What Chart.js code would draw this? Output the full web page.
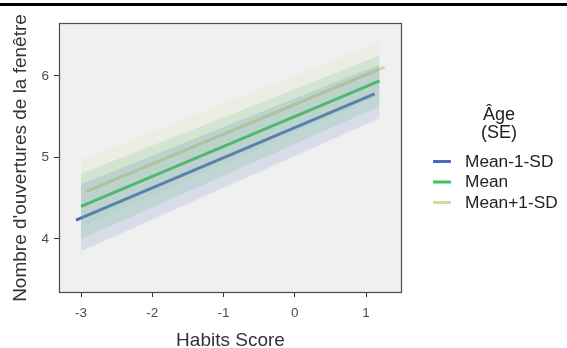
<!DOCTYPE html>
<html>
<head>
<meta charset="utf-8">
<script src="https://cdn.jsdelivr.net/npm/chart.js@4/dist/chart.umd.min.js"></script>
<style>
  html, body { margin: 0; padding: 0; background: #ffffff; }
  #wrap { width: 567px; height: 348px; position: relative; }
</style>
</head>
<body>
<div id="wrap"><canvas id="c" width="567" height="348"></canvas></div>
<script>
// ---- data ----
const xTicks = [-3, -2, -1, 0, 1];
const yTicks = [4, 5, 6];
const seriesNames = ['Mean-1-SD', 'Mean', 'Mean+1-SD'];
const seriesColors = ['#4a6bbf', '#3fc45a', '#d9d5a5'];
// fitted lines (slightly dodged along x)
const lineXMinus = [-3.07, 1.12];
const lineYMinus = [4.23, 5.78];
const lineXMean = [-3.0, 1.19];
const lineYMean = [4.40, 5.94];
const lineXPlus = [-2.93, 1.26];
const lineYPlus = [4.58, 6.11];
// confidence ribbons
const ribbonX = [-3.0, 1.19];
const lowMinus = [3.85, 5.48];
const highMinus = [4.67, 6.14];
const lowMean = [4.00, 5.63];
const highMean = [4.80, 6.25];
const lowPlus = [4.15, 5.76];
const highPlus = [4.97, 6.42];
const legendTitle = ['Âge', '(SE)'];

const lineXs = [lineXMinus, lineXMean, lineXPlus];
const lineYs = [lineYMinus, lineYMean, lineYPlus];
const lows = [lowMinus, lowMean, lowPlus];
const highs = [highMinus, highMean, highPlus];

function pts(xs, ys) { return xs.map((x, i) => ({x: x, y: ys[i]})); }
function rgba(hex, a) {
  const n = parseInt(hex.slice(1), 16);
  return `rgba(${(n >> 16) & 255},${(n >> 8) & 255},${n & 255},${a})`;
}

Chart.defaults.font.family = '"Liberation Sans", Arial, sans-serif';

const datasets = [];
for (let s = 0; s < seriesNames.length; s++) {
  datasets.push({
    label: seriesNames[s],
    data: pts(lineXs[s], lineYs[s]),
    borderColor: seriesColors[s],
    borderWidth: 3,
    pointRadius: 0,
    fill: false,
    order: 5
  });
}
for (let s = 0; s < seriesNames.length; s++) {
  datasets.push({
    label: seriesNames[s] + ' low',
    data: pts(ribbonX, lows[s]),
    borderWidth: 0,
    borderColor: 'rgba(0,0,0,0)',
    pointRadius: 0,
    fill: false,
    order: 1
  });
  datasets.push({
    label: seriesNames[s] + ' high',
    data: pts(ribbonX, highs[s]),
    borderWidth: 0,
    borderColor: 'rgba(0,0,0,0)',
    backgroundColor: rgba(seriesColors[s], 0.15),
    pointRadius: 0,
    fill: '-1',
    order: 1
  });
}

const panelPlugin = {
  id: 'panel',
  beforeDraw(chart) {
    const {ctx, chartArea: a} = chart;
    ctx.save();
    ctx.fillStyle = '#f0f0f0';
    ctx.fillRect(a.left, a.top, a.right - a.left, a.bottom - a.top);
    ctx.restore();
  },
  afterDraw(chart) {
    const {ctx, chartArea: a} = chart;
    ctx.save();
    ctx.strokeStyle = '#4d4d4d';
    ctx.lineWidth = 1.2;
    ctx.strokeRect(a.left + 0.5, a.top + 0.5, a.right - a.left - 1, a.bottom - a.top - 1);
    // top rule
    ctx.fillStyle = '#000000';
    ctx.fillRect(0, 3, chart.width, 3);
    // legend
    ctx.fillStyle = '#222222';
    ctx.textAlign = 'center';
    ctx.textBaseline = 'middle';
    ctx.font = '18px "Liberation Sans", Arial, sans-serif';
    ctx.fillText(legendTitle[0], 499, 115);
    ctx.fillText(legendTitle[1], 499, 133.5);
    ctx.textAlign = 'left';
    ctx.font = '17.3px "Liberation Sans", Arial, sans-serif';
    for (let s = 0; s < seriesNames.length; s++) {
      const y = 161.5 + s * 20.5;
      ctx.strokeStyle = seriesColors[s];
      ctx.lineWidth = 3;
      ctx.beginPath();
      ctx.moveTo(433, y);
      ctx.lineTo(451, y);
      ctx.stroke();
      ctx.fillStyle = '#222222';
      ctx.fillText(seriesNames[s], 465, y + 0.5);
    }
    ctx.restore();
  }
};

new Chart(document.getElementById('c'), {
  type: 'line',
  data: { datasets: datasets },
  plugins: [panelPlugin],
  options: {
    responsive: false,
    animation: false,
    devicePixelRatio: 1,
    layout: { padding: { left: 0, top: 23, right: 165, bottom: 0 } },
    plugins: {
      legend: { display: false },
      tooltip: { enabled: false },
      filler: { propagate: false }
    },
    scales: {
      x: {
        type: 'linear',
        min: -3.309,
        max: 1.505,
        afterBuildTicks(scale) { scale.ticks = xTicks.map(v => ({value: v})); },
        afterFit(scale) { scale.height = 55; },
        grid: { display: true, drawOnChartArea: false, drawTicks: true, tickLength: 4, color: '#333333', lineWidth: 1 },
        border: { display: false },
        ticks: { color: '#4d4d4d', font: { size: 13.5 }, padding: 8, maxRotation: 0 },
        title: { display: true, text: 'Habits Score', color: '#333333', font: { size: 19, lineHeight: 0.8 }, padding: { top: 0, bottom: 0 } }
      },
      y: {
        type: 'linear',
        min: 3.337,
        max: 6.650,
        afterBuildTicks(scale) { scale.ticks = yTicks.map(v => ({value: v})); },
        afterFit(scale) { scale.width = 59; },
        grid: { display: true, drawOnChartArea: false, drawTicks: true, tickLength: 5, color: '#333333', lineWidth: 1 },
        border: { display: false },
        ticks: { color: '#4d4d4d', font: { size: 13.5 }, padding: 5 },
        title: { display: true, text: "Nombre d'ouvertures de la fenêtre", color: '#333333', font: { size: 19, lineHeight: 1 }, padding: { top: 11, bottom: 0 } }
      }
    }
  }
});
</script>
</body>
</html>
